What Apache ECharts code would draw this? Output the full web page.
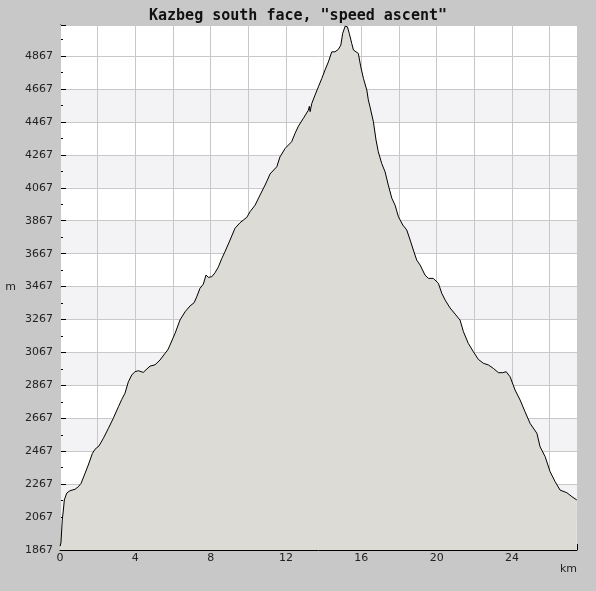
<!DOCTYPE html>
<html>
<head>
<meta charset="utf-8">
<script src="https://cdn.jsdelivr.net/npm/echarts@6/dist/echarts.min.js"></script>
<style>
  html, body { margin: 0; padding: 0; background: #c8c8c8; }
  #chart { width: 596px; height: 591px; }
</style>
</head>
<body>
<div id="chart"></div>
<script>
const titleText = 'Kazbeg south face, "speed ascent"';
const yName = 'm';
const xName = 'km';
const yMin = 1867, yMax = 5056, yStep = 200;
const xMin = 0, xMax = 27.45, xStep = 2, xLabelStep = 4;

const distKm = [0.00, 0.05, 0.12, 0.18, 0.23, 0.36, 0.53, 0.80, 0.97, 1.12, 1.33, 1.50, 1.72, 1.86, 2.07, 2.30, 2.57, 2.83, 3.10, 3.28,
  3.45, 3.63, 3.81, 3.98, 4.16, 4.42, 4.78, 5.05, 5.31, 5.58, 5.72, 5.84, 6.11, 6.37, 6.64, 6.90, 7.12, 7.26, 7.43, 7.61,
  7.75, 7.82, 7.88, 8.06, 8.23, 8.41, 8.59, 8.76, 9.03, 9.29, 9.56, 9.92, 10.09, 10.36, 10.62, 10.89, 11.01, 11.15, 11.51, 11.68,
  11.95, 12.30, 12.48, 12.66, 12.92, 13.19, 13.24, 13.28, 13.37, 13.54, 13.72, 13.90, 14.07, 14.25, 14.43, 14.60, 14.78, 14.91, 15.01, 15.14,
  15.26, 15.36, 15.49, 15.58, 15.72, 15.84, 15.97, 16.11, 16.29, 16.37, 16.46, 16.64, 16.78, 16.90, 17.08, 17.26, 17.43, 17.62, 17.79, 17.97,
  18.20, 18.41, 18.59, 18.76, 18.94, 19.12, 19.38, 19.56, 19.82, 20.09, 20.27, 20.45, 20.71, 20.98, 21.24, 21.42, 21.68, 21.95, 22.21, 22.48,
  22.75, 23.01, 23.28, 23.51, 23.69, 23.90, 24.16, 24.43, 24.69, 24.96, 25.32, 25.49, 25.76, 26.02, 26.29, 26.55, 26.91, 27.18, 27.44];
const elevM = [1890, 1910, 2049, 2110, 2171, 2213, 2227, 2236, 2251, 2272, 2333, 2383, 2454, 2479, 2499, 2545, 2606, 2667, 2737, 2782,
  2819, 2889, 2930, 2950, 2956, 2946, 2984, 2992, 3021, 3062, 3082, 3112, 3183, 3264, 3314, 3349, 3369, 3405, 3456, 3482,
  3537, 3543, 3523, 3527, 3551, 3587, 3638, 3679, 3750, 3821, 3855, 3888, 3922, 3962, 4023, 4084, 4114, 4151, 4195, 4255,
  4306, 4347, 4398, 4442, 4489, 4539, 4562, 4530, 4580, 4630, 4681, 4731, 4782, 4832, 4893, 4893, 4908, 4934, 5005, 5049,
  5045, 5005, 4944, 4904, 4893, 4883, 4802, 4732, 4661, 4601, 4559, 4468, 4357, 4286, 4215, 4164, 4084, 4003, 3962, 3891,
  3841, 3811, 3750, 3689, 3628, 3598, 3537, 3517, 3517, 3487, 3426, 3385, 3337, 3300, 3264, 3193, 3122, 3071, 3025, 3001,
  2991, 2970, 2944, 2944, 2950, 2919, 2839, 2778, 2707, 2636, 2576, 2494, 2434, 2343, 2282, 2231, 2215, 2191, 2171];

const profile = distKm.map((d, i) => [d, elevM[i]]);

// band colours: alternate, but leave the top partial band white
const nBands = Math.ceil((yMax - yMin) / yStep);
const bandColors = [];
for (let i = 0; i < nBands; i++) {
  const full = yMin + (i + 1) * yStep <= yMax;
  bandColors.push(i % 2 === 1 && full ? '#f3f2f5' : '#ffffff');
}

const chart = echarts.init(document.getElementById('chart'), null, { renderer: 'canvas' });
chart.setOption({
  backgroundColor: '#c8c8c8',
  animation: false,
  title: {
    text: titleText,
    left: 'center',
    top: 4,
    textStyle: { fontFamily: 'DejaVu Sans Mono', fontSize: 15, fontWeight: 'bold', color: '#111' }
  },
  grid: {
    left: 60, right: 19, top: 25, bottom: 41,
    show: true, backgroundColor: '#ffffff', borderWidth: 0
  },
  xAxis: {
    type: 'value',
    min: xMin, max: xMax, interval: xStep,
    z: 1,
    name: xName,
    nameLocation: 'end',
    nameGap: 0,
    nameTextStyle: { fontFamily: 'DejaVu Sans', fontSize: 11, color: '#222', align: 'right', verticalAlign: 'top', padding: [14, 0, 0, 0] },
    axisLine: { show: true, lineStyle: { color: '#000', width: 1 } },
    axisTick: { show: true, inside: true, length: 6, lineStyle: { color: '#000' } },
    minorTick: { show: true, splitNumber: 2, length: 3, lineStyle: { color: '#000' } },
    splitLine: { show: true, lineStyle: { color: '#c8c8c8', width: 1 } },
    axisLabel: {
      margin: 3, fontFamily: 'DejaVu Sans', fontSize: 11, color: '#222',
      showMaxLabel: false,
      formatter: v => (Math.abs(v % xLabelStep) < 1e-9 ? String(v) : '')
    }
  },
  yAxis: {
    type: 'value',
    min: yMin, max: yMax, interval: yStep,
    z: 0,
    name: yName,
    nameLocation: 'middle',
    nameRotate: 0,
    nameGap: 44,
    nameTextStyle: { fontFamily: 'DejaVu Sans', fontSize: 11, color: '#222' },
    axisLine: { show: true, lineStyle: { color: '#000', width: 1 } },
    axisTick: { show: true, inside: true, length: 6, lineStyle: { color: '#000' } },
    minorTick: { show: true, splitNumber: 2, length: 3, lineStyle: { color: '#000' } },
    splitLine: { show: true, lineStyle: { color: '#c8c8c8', width: 1 } },
    splitArea: { show: true, areaStyle: { color: bandColors } },
    axisLabel: {
      margin: 7, fontFamily: 'DejaVu Sans', fontSize: 11, color: '#222',
      showMaxLabel: false,
      formatter: v => String(Math.round(v))
    }
  },
  series: [{
    type: 'line',
    data: profile,
    showSymbol: false,
    symbol: 'none',
    smooth: false,
    lineStyle: { color: '#000', width: 1 },
    areaStyle: { color: '#dcdbd5', opacity: 1 },
    z: 2
  }]
});
</script>
</body>
</html>
